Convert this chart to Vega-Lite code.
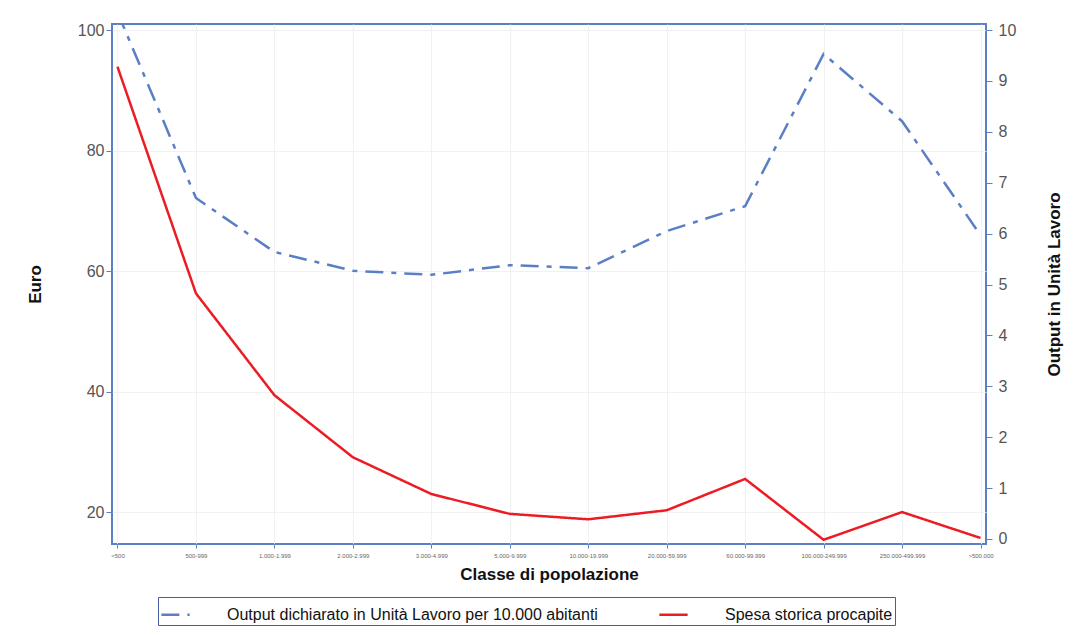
{
  "$schema": "https://vega.github.io/schema/vega-lite/v6.json",
  "autosize": "none",
  "width": 874,
  "height": 520,
  "padding": {"left": 112, "top": 24, "right": 89, "bottom": 93},
  "background": "white",
  "config": {
    "font": "Liberation Sans",
    "view": {"stroke": "#5b7fc4", "strokeWidth": 2},
    "axis": {"labelColor": "#555555", "titleColor": "#111111", "tickColor": "#5b7fc4", "domain": false, "gridColor": "#eeeeee", "gridOpacity": 0.8}
  },
  "data": {"values": [
    {"classe": "<500", "serie": "Output dichiarato in Unità Lavoro per 10.000 abitanti", "output": 10.35},
    {"classe": "500-999", "serie": "Output dichiarato in Unità Lavoro per 10.000 abitanti", "output": 6.70},
    {"classe": "1.000-1.999", "serie": "Output dichiarato in Unità Lavoro per 10.000 abitanti", "output": 5.64},
    {"classe": "2.000-2.999", "serie": "Output dichiarato in Unità Lavoro per 10.000 abitanti", "output": 5.27},
    {"classe": "3.000-4.999", "serie": "Output dichiarato in Unità Lavoro per 10.000 abitanti", "output": 5.19},
    {"classe": "5.000-9.999", "serie": "Output dichiarato in Unità Lavoro per 10.000 abitanti", "output": 5.38},
    {"classe": "10.000-19.999", "serie": "Output dichiarato in Unità Lavoro per 10.000 abitanti", "output": 5.32},
    {"classe": "20.000-59.999", "serie": "Output dichiarato in Unità Lavoro per 10.000 abitanti", "output": 6.05},
    {"classe": "60.000-99.999", "serie": "Output dichiarato in Unità Lavoro per 10.000 abitanti", "output": 6.54},
    {"classe": "100.000-249.999", "serie": "Output dichiarato in Unità Lavoro per 10.000 abitanti", "output": 9.53},
    {"classe": "250.000-499.999", "serie": "Output dichiarato in Unità Lavoro per 10.000 abitanti", "output": 8.21},
    {"classe": ">500.000", "serie": "Output dichiarato in Unità Lavoro per 10.000 abitanti", "output": 5.97},
    {"classe": "<500", "serie": "Spesa storica procapite", "euro": 93.9},
    {"classe": "500-999", "serie": "Spesa storica procapite", "euro": 56.3},
    {"classe": "1.000-1.999", "serie": "Spesa storica procapite", "euro": 39.4},
    {"classe": "2.000-2.999", "serie": "Spesa storica procapite", "euro": 29.1},
    {"classe": "3.000-4.999", "serie": "Spesa storica procapite", "euro": 23.0},
    {"classe": "5.000-9.999", "serie": "Spesa storica procapite", "euro": 19.7},
    {"classe": "10.000-19.999", "serie": "Spesa storica procapite", "euro": 18.8},
    {"classe": "20.000-59.999", "serie": "Spesa storica procapite", "euro": 20.3},
    {"classe": "60.000-99.999", "serie": "Spesa storica procapite", "euro": 25.5},
    {"classe": "100.000-249.999", "serie": "Spesa storica procapite", "euro": 15.4},
    {"classe": "250.000-499.999", "serie": "Spesa storica procapite", "euro": 20.0},
    {"classe": ">500.000", "serie": "Spesa storica procapite", "euro": 15.7}
  ]},
  "encoding": {
    "x": {
      "field": "classe", "type": "ordinal", "sort": null,
      "scale": {"type": "point", "padding": 0.07},
      "axis": {"title": "Classe di popolazione", "labelAngle": 0, "labelFontSize": 6, "labelColor": "#666666", "titleFontSize": 17, "titleFontWeight": "bold", "titlePadding": 8, "grid": true, "tickSize": 4, "labelPadding": 4}
    },
    "color": {
      "field": "serie", "type": "nominal",
      "scale": {"domain": ["Output dichiarato in Unità Lavoro per 10.000 abitanti", "Spesa storica procapite"], "range": ["#5b7fc4", "#ec1c24"]},
      "legend": {"title": null, "orient": "none", "legendX": 46, "legendY": 573, "direction": "horizontal", "symbolType": "stroke", "symbolSize": 800, "symbolStrokeWidth": 2.5, "labelFontSize": 16, "labelColor": "#111111", "labelOffset": 36, "strokeColor": "#4a5aa0", "padding": 2, "columnPadding": 56, "labelLimit": 600}
    },
    "strokeDash": {
      "field": "serie", "type": "nominal",
      "scale": {"domain": ["Output dichiarato in Unità Lavoro per 10.000 abitanti", "Spesa storica procapite"], "range": [[18, 8, 5, 8], [1, 0]]},
      "legend": null
    }
  },
  "layer": [
    {
      "transform": [{"filter": "datum.serie === 'Spesa storica procapite'"}],
      "mark": {"type": "line", "strokeWidth": 2.5, "clip": true},
      "encoding": {
        "y": {"field": "euro", "type": "quantitative",
          "scale": {"domain": [14.7, 101], "nice": false, "zero": false},
          "axis": {"title": "Euro", "orient": "left", "values": [20, 40, 60, 80, 100], "labelFontSize": 16, "titleFontSize": 17, "titleFontWeight": "bold", "titlePadding": 33, "grid": true, "tickSize": 6}
        }
      }
    },
    {
      "transform": [{"filter": "datum.serie !== 'Spesa storica procapite'"}],
      "mark": {"type": "line", "strokeWidth": 2.5, "clip": true},
      "encoding": {
        "y": {"field": "output", "type": "quantitative",
          "scale": {"domain": [-0.1, 10.12], "nice": false, "zero": false},
          "axis": {"title": "Output in Unità Lavoro", "orient": "right", "values": [0, 1, 2, 3, 4, 5, 6, 7, 8, 9, 10], "labelFontSize": 16, "titleFontSize": 17, "titleFontWeight": "bold", "titleAngle": -90, "titlePadding": 48, "grid": false, "tickSize": 6, "labelPadding": 6}
        }
      }
    }
  ],
  "resolve": {"scale": {"y": "independent"}}
}
